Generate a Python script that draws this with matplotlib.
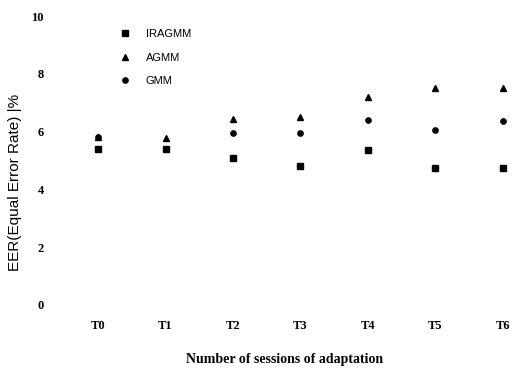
import matplotlib.pyplot as plt

# Datos
sesiones = ['T0', 'T1', 'T2', 'T3', 'T4', 'T5', 'T6']
eer_iragmm = [5.4, 5.4, 5.1, 4.8, 5.35, 4.73, 4.73]
eer_agmm = [5.8, 5.77, 6.43, 6.5, 7.2, 7.5, 7.5]
eer_gmm = [5.8, 5.4, 5.95, 5.95, 6.4, 6.05, 6.37]
yticks = [0, 2, 4, 6, 8, 10]

fig = plt.figure(figsize=(5.18, 3.69), dpi=100)
ax = fig.add_axes([0.106, 0.1545, 0.888, 0.8175])

x = list(range(len(sesiones)))
ax.plot(x, eer_iragmm, linestyle='none', marker='s', markersize=3.8, color='black', label='IRAGMM')
ax.plot(x, eer_agmm, linestyle='none', marker='^', markersize=3.8, color='black', label='AGMM')
ax.plot(x, eer_gmm, linestyle='none', marker='o', markersize=3.8, color='black', label='GMM')

ax.set_xlim(-0.64, 6.18)
ax.set_ylim(-0.25, 10.2)
ax.set_xticks(x)
ax.set_xticklabels(sesiones, fontfamily='Liberation Serif', fontweight='bold', fontsize=9)
ax.set_yticks(yticks)
ax.set_yticklabels([str(v) for v in yticks], fontfamily='Liberation Serif', fontweight='bold', fontsize=9)
ax.tick_params(axis='both', length=0)
ax.tick_params(axis='y', pad=8)
ax.tick_params(axis='x', pad=6)
for lado in ax.spines.values():
    lado.set_visible(False)

ax.set_xlabel('Number of sessions of adaptation', fontfamily='Liberation Serif',
              fontweight='bold', fontsize=10, labelpad=15)
ax.set_ylabel('EER(Equal Error Rate) |%', fontfamily='Liberation Sans', fontsize=11)
ax.yaxis.set_label_coords(-0.072, 0.43)

leg = ax.legend(loc='upper left', bbox_to_anchor=(0.118, 0.97), frameon=False,
                labelspacing=1.2, handletextpad=1.4, handlelength=1.0,
                prop={'family': 'Liberation Sans', 'size': 8})

fig.savefig('out.png', dpi=100)
